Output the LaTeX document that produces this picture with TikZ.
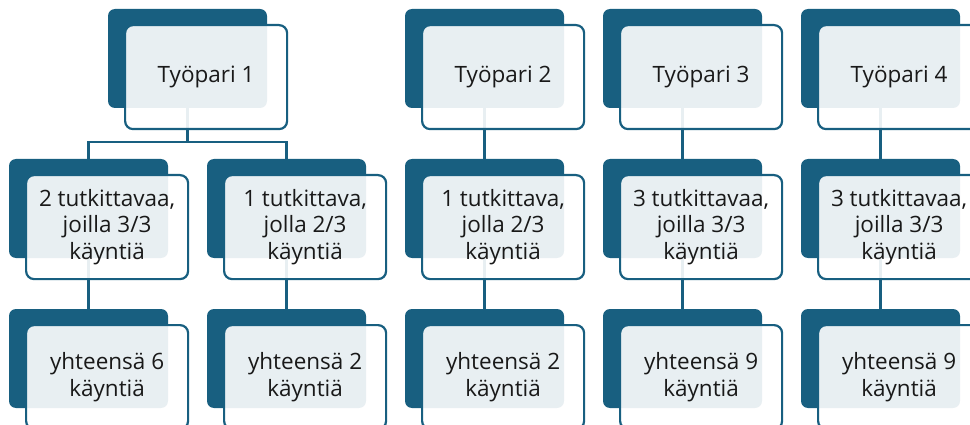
\documentclass[tikz,border=0pt]{standalone}
\usepackage{fontspec}
\setmainfont{Open Sans}
\definecolor{dk}{RGB}{24,95,128}
\definecolor{txt}{RGB}{25,25,25}
\tikzset{
  back/.style={fill=dk, rounded corners=7pt, minimum width=159pt, minimum height=99pt, anchor=north west, inner sep=0pt, outer sep=0pt},
  front/.style={draw=dk, line width=2.2pt, fill=white, fill opacity=0.9, text opacity=1, rounded corners=8pt, minimum width=162pt, minimum height=104pt, anchor=north west, align=center, text=txt, inner sep=0pt, font=\fontsize{22.5}{26.5}\selectfont},
  link/.style={draw=dk, line width=2.2pt}
}
\begin{document}
\begin{tikzpicture}[x=1pt,y=-1pt]
\useasboundingbox (0,0) rectangle (970,425);
\clip (0,0) rectangle (970,425);
% dark back plates
\node[back] (b1) at (108,9) {};
\node[back] (b2) at (405,9) {};
\node[back] (b3) at (603,9) {};
\node[back] (b4) at (801,9) {};
\node[back] (c1) at (9,159) {};
\node[back] (c2) at (207,159) {};
\node[back] (c3) at (405,159) {};
\node[back] (c4) at (603,159) {};
\node[back] (c5) at (801,159) {};
\node[back] (d1) at (9,309) {};
\node[back] (d2) at (207,309) {};
\node[back] (d3) at (405,309) {};
\node[back] (d4) at (603,309) {};
\node[back] (d5) at (801,309) {};
% connectors
\draw[link] (b1.south) -- ++(0,34) -| (c1.north);
\draw[link] (b1.south) -- ++(0,34) -| (c2.north);
\draw[link] (b2.south) -- (c3.north);
\draw[link] (b3.south) -- (c4.north);
\draw[link] (b4.south) -- (c5.north);
\draw[link] (c1.south) -- (d1.north);
\draw[link] (c2.south) -- (d2.north);
\draw[link] (c3.south) -- (d3.north);
\draw[link] (c4.south) -- (d4.north);
\draw[link] (c5.south) -- (d5.north);
% front boxes
\node[front] (f1) at (124,24) {Työpari 1};
\node[front] (f2) at (421,24) {Työpari 2};
\node[front] (f3) at (619,24) {Työpari 3};
\node[front] (f4) at (817,24) {Työpari 4};
\node[front] (g1) at (25,174) {2 tutkittavaa,\\joilla 3/3\\käyntiä};
\node[front] (g2) at (223,174) {1 tutkittava,\\jolla 2/3\\käyntiä};
\node[front] (g3) at (421,174) {1 tutkittava,\\jolla 2/3\\käyntiä};
\node[front] (g4) at (619,174) {3 tutkittavaa,\\joilla 3/3\\käyntiä};
\node[front] (g5) at (817,174) {3 tutkittavaa,\\joilla 3/3\\käyntiä};
\node[front] (h1) at (25,324) {yhteensä 6\\käyntiä};
\node[front] (h2) at (223,324) {yhteensä 2\\käyntiä};
\node[front] (h3) at (421,324) {yhteensä 2\\käyntiä};
\node[front] (h4) at (619,324) {yhteensä 9\\käyntiä};
\node[front] (h5) at (817,324) {yhteensä 9\\käyntiä};
\end{tikzpicture}
\end{document}
